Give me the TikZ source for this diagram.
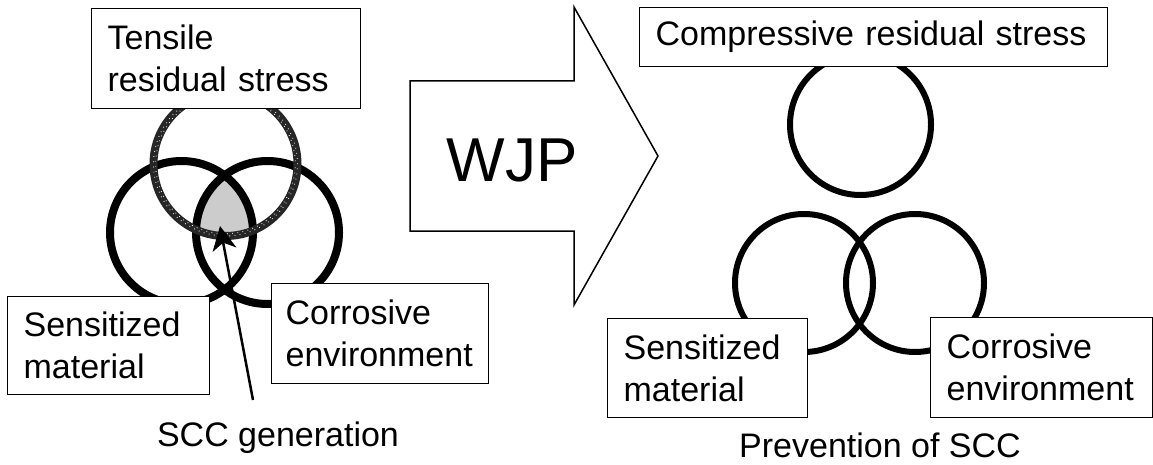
\documentclass[tikz,border=0pt]{standalone}
\usepackage{fontspec}
\setmainfont{Liberation Sans}
\usetikzlibrary{arrows.meta}
\newcommand\labfont{\fontsize{34}{42}\selectfont}
\begin{document}
\begin{tikzpicture}[x=1pt,y=-1pt,
  box/.style={draw, fill=white, line width=1.3pt, inner xsep=16pt, inner ysep=0pt, align=left, anchor=north west, font=\labfont},
  ring/.style={line width=8pt},
  thinring/.style={line width=6pt},
  caption/.style={font=\labfont, inner sep=0pt, anchor=base},
  speckle/.style={white, line width=0.9pt, dash pattern=on 0.7pt off 4.5pt},
]
\useasboundingbox (0,0) rectangle (1153,465);

% ---------- left Venn ----------
\coordinate (cL) at (181.5,232.5);
\coordinate (cR) at (267.5,232.5);
\coordinate (cT) at (225.5,164);
\begin{scope}
  \clip (cL) circle[radius=71.5pt];
  \clip (cR) circle[radius=71.5pt];
  \fill[gray!40] (cT) circle[radius=72pt];
\end{scope}
\draw[ring] (cL) circle[radius=71.5pt];
\draw[ring] (cR) circle[radius=71.5pt];
\draw[ring, black!85] (cT) circle[radius=72pt];
\draw[speckle] (cT) circle[radius=72pt];
\draw[speckle, dash phase=2.3pt] (cT) circle[radius=69.8pt];

\coordinate (tail) at (253,400);
\coordinate (tip) at (220,226);
\draw[line width=2.5pt, -{Stealth[length=24pt,width=24pt,inset=7pt]}] (tail) -- (tip);

\node[box, text width=237pt, minimum height=100pt] (tens) at (91,8) {Tensile\\residual stress};
\node[box, text width=170pt, minimum height=98pt] (sensL) at (7,296) {Sensitized\\material};
\node[box, inner xsep=14pt, text width=189pt, minimum height=100pt] (corrL) at (271,283) {Corrosive\\environment};
\node[caption] (scc) at (278,446) {SCC generation};

% ---------- WJP arrow ----------
\draw[line width=1.5pt, line join=miter] (410,81) -- (574,81) -- (574,7) -- (658,156) -- (574,305) -- (574,231) -- (410,231) -- cycle;
\node[font=\fontsize{62}{62}\selectfont, inner sep=0pt] (wjp) at (512,160) {WJP};

% ---------- right diagram ----------
\coordinate (rT) at (860.5,124.5);
\coordinate (rL) at (804,283);
\coordinate (rR) at (915,283);
\draw[thinring] (rT) circle[radius=70.5pt];
\draw[thinring] (rL) circle[radius=69pt];
\draw[thinring] (rR) circle[radius=69pt];

\node[box, text width=436pt, minimum height=59pt] (comp) at (639,7) {Compressive residual stress};
\node[box, text width=168pt, minimum height=99pt] (sensR) at (607,318) {Sensitized\\material};
\node[box, text width=190pt, minimum height=100pt] (corrR) at (930,317) {Corrosive\\environment};
\node[caption] (prev) at (880,457) {Prevention of SCC};
\end{tikzpicture}
\end{document}
